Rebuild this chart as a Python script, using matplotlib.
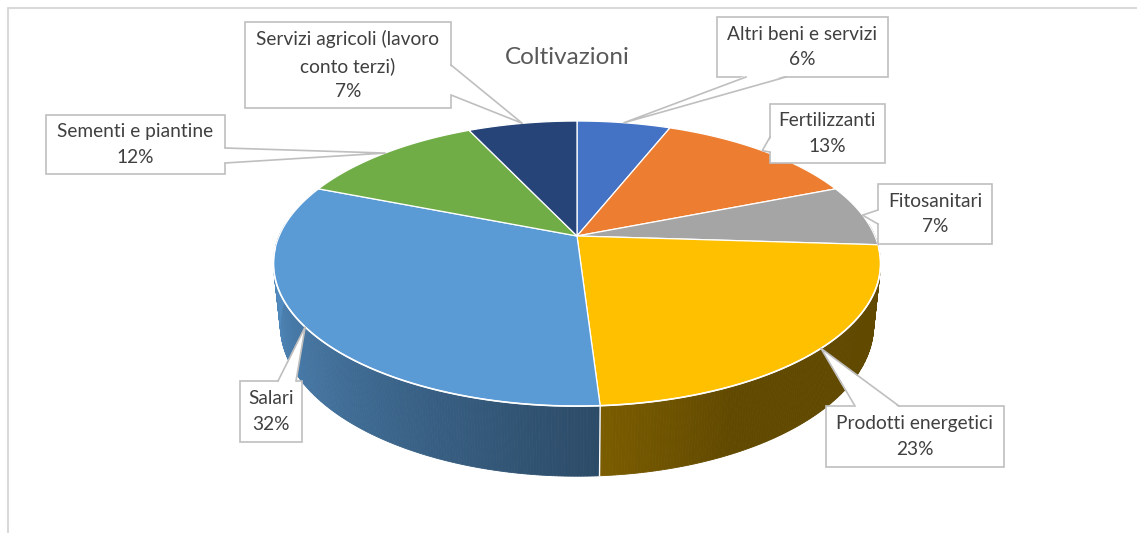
#!/usr/bin/env python3
"""3D pie of cultivation costs (Coltivazioni)."""

import numpy as np
import matplotlib

matplotlib.use("Agg")
import matplotlib.pyplot as plt
from matplotlib.patches import Polygon, Rectangle
from matplotlib.colors import to_rgb

title = "Coltivazioni"
labels = [
    "Altri beni e servizi",
    "Fertilizzanti",
    "Fitosanitari",
    "Prodotti energetici",
    "Salari",
    "Sementi e piantine",
    "Servizi agricoli (lavoro\nconto terzi)",
]
shares = [6, 13, 7, 23, 32, 12, 7]
colors = ["#4472C4", "#ED7D31", "#A5A5A5", "#FFC000", "#5B9BD5", "#70AD47", "#264478"]

# callout boxes in pixels: x0, y0, x1, y1, side of the tail, tail base span
boxes = [
    (717, 17, 888, 77, "bottom", 746, 786),
    (770, 104, 885, 163, "left", 137, 152),
    (878, 184, 992, 244, "left", 210, 224),
    (826, 406, 1004, 467, "top", 855, 899),
    (240, 381, 302, 442, "top", 278, 296),
    (46, 115, 225, 174, "right", 148, 163),
    (245, 22, 451, 108, "right", 65, 95),
]

W, H_PX = 1137, 533
CX, CY = 577, 236
FX, FY = 1373, 1398
ELEV = np.radians(26.9)
DIST = 4.61
THICK = 0.229


def project(phi, r=1.0, drop=0.0):
    """Perspective view of a point on the pie, phi clockwise from 12 o'clock."""
    phi = np.radians(np.asarray(phi, dtype=float))
    d = DIST * np.cos(ELEV)
    h = DIST * np.sin(ELEV)
    vx = r * np.sin(phi)
    vy = -drop - h
    vz = -r * np.cos(phi) - d
    depth = -(vy * h + vz * d) / DIST
    yc = (vy * d - vz * h) / DIST
    return CX + FX * vx / depth, CY - FY * yc / depth


def shade(phi):
    return np.clip(0.5 + (phi - 180) * 0.00475, 0.38, 0.9)


fig = plt.figure(figsize=(W / 100, H_PX / 100), dpi=100)
ax = fig.add_axes([0, 0, 1, 1])
ax.set_xlim(0, W)
ax.set_ylim(H_PX, 0)
ax.axis("off")

# chart area border (top and left only are visible)
ax.plot([7.5, 7.5, W], [H_PX, 7.5, 7.5], color="#D9D9D9", lw=1.5, zorder=0)

bounds = np.concatenate([[0], np.cumsum(shares)]) * 3.6

# side walls
for value, color, start, end in zip(shares, colors, bounds[:-1], bounds[1:]):
    lo, hi = max(start, 85), min(end, 275)
    if lo >= hi:
        continue
    steps = np.linspace(lo, hi, max(int((hi - lo) * 2), 2))
    base = np.array(to_rgb(color))
    for a, b in zip(steps[:-1], steps[1:]):
        tx, ty = project([a, b])
        bx, by = project([b, a], drop=THICK)
        tone = tuple(base * shade((a + b) / 2))
        ax.add_patch(Polygon(np.column_stack([np.r_[tx, bx], np.r_[ty, by]]),
                             closed=True, fc=tone, ec=tone, lw=0.6, zorder=1))

# white seam on the wall between slices
for edge in bounds[1:-1]:
    if 95 < edge < 265:
        x0, y0 = project(edge)
        x1, y1 = project(edge, drop=THICK)
        ax.plot([x0, x1], [y0, y1], color="white", lw=1, zorder=2)

# top face
cx0, cy0 = project(0, r=0)
for color, start, end in zip(colors, bounds[:-1], bounds[1:]):
    arc = np.linspace(start, end, 120)
    rx, ry = project(arc)
    ax.add_patch(Polygon(np.column_stack([np.r_[cx0, rx], np.r_[cy0, ry]]),
                         closed=True, fc=color, ec="white", lw=0.9, zorder=3))

rim = np.linspace(95, 265, 300)
rx, ry = project(rim)
ax.plot(rx, ry, color="white", lw=1.2, zorder=4)

# title
ax.text(567, 58, title, ha="center", va="center", fontsize=17.5,
        color="#595959", family="Lato", zorder=6)

# callouts
line_color = "#BFBFBF"
for label, value, start, end, box in zip(labels, shares, bounds[:-1], bounds[1:], boxes):
    x0, y0, x1, y1, side, s0, s1 = box
    ax_, ay_ = project((start + end) / 2)
    if side == "bottom":
        p0, p1, inner = (s0, y1), (s1, y1), (0, -1.5)
    elif side == "top":
        p0, p1, inner = (s0, y0), (s1, y0), (0, 1.5)
    elif side == "left":
        p0, p1, inner = (x0, s0), (x0, s1), (1.5, 0)
    else:
        p0, p1, inner = (x1, s0), (x1, s1), (-1.5, 0)
    ax.add_patch(Rectangle((x0, y0), x1 - x0, y1 - y0, fc="white",
                           ec=line_color, lw=1.2, zorder=7))
    tail = [(p0[0] + inner[0], p0[1] + inner[1]), (ax_, ay_),
            (p1[0] + inner[0], p1[1] + inner[1])]
    ax.add_patch(Polygon(tail, closed=True, fc="white", ec="none", zorder=8))
    ax.plot([p0[0], ax_, p1[0]], [p0[1], ay_, p1[1]], color=line_color,
            lw=1.2, zorder=8)
    ax.text((x0 + x1) / 2, (y0 + y1) / 2, f"{label}\n{value}%", ha="center",
            va="center", fontsize=13.8, linespacing=1.58, color="#404040",
            family="Lato", zorder=9)

fig.savefig("out.png", dpi=100)
